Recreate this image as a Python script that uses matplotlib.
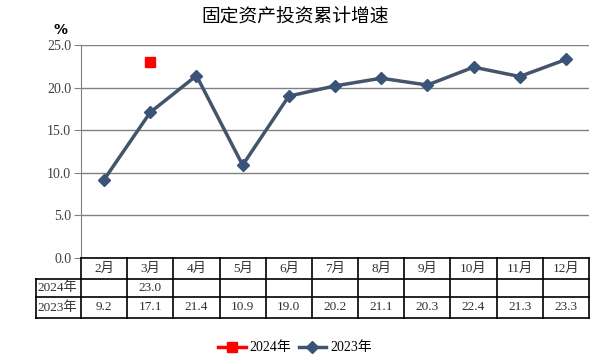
import numpy as np
import matplotlib
matplotlib.use('Agg')
import matplotlib.pyplot as plt

plt.rcParams['font.family'] = ['Liberation Serif', 'Noto Sans CJK SC']

""" Data """
months = ['2月', '3月', '4月', '5月', '6月', '7月', '8月', '9月', '10月', '11月', '12月']
vals2024 = [None, 23.0, None, None, None, None, None, None, None, None, None]
vals2023 = [9.2, 17.1, 21.4, 10.9, 19.0, 20.2, 21.1, 20.3, 22.4, 21.3, 23.3]
seriesNames = ['2024年', '2023年']
title = '固定资产投资累计增速'

lineColor = '#44546A'
markColor = '#3A5378'
red = '#FF0000'

W, H = 599, 363
fig = plt.figure(figsize=(W/100, H/100), dpi=100)
axL, axR, axT, axB = 81, 589, 45, 258
ax = fig.add_axes([axL/W, 1 - axB/H, (axR - axL)/W, (axB - axT)/H])

x = np.arange(len(months))
y24 = np.array([np.nan if v is None else v for v in vals2024])
ax.plot(x, vals2023, color=lineColor, linewidth=2.5, marker='D', markersize=6,
        markerfacecolor=markColor, markeredgecolor=markColor, zorder=3)
ax.plot(x, y24, color=red, marker='s', markersize=7, linestyle='none', zorder=3)

ax.set_xlim(-0.5, len(months) - 0.5)
ax.set_ylim(0, 25)
ticks = np.arange(0, 25.1, 5)
ax.set_yticks(ticks)
ax.set_yticklabels(['%.1f' % v for v in ticks], fontsize=10, color='#404040')
ax.set_xticks([])
ax.grid(axis='y', color='#808080', linewidth=1)
ax.set_axisbelow(True)
for s in ['top', 'right', 'bottom']:
    ax.spines[s].set_visible(False)
ax.spines['left'].set_color('#808080')
ax.tick_params(axis='y', length=5, color='#808080', pad=2)

fig.text(60/W, 1 - 30/H, '%', fontsize=10, fontweight='bold', ha='center', va='center',
         family='DejaVu Sans')
fig.text(295/W, 1 - 17/H, title, fontsize=13.5, ha='center', va='center')

""" Table drawn by hand (pixel coords) """
def fx(px):
    return px/W
def fy(py):
    return 1 - py/H

labelL = 36
rowY = [258, 279, 297, 318]
colX = axL + np.arange(len(months) + 1)*(axR - axL)/len(months)
lw = 1.2
# horizontal lines
fig.add_artist(plt.Line2D([fx(axL), fx(axR)], [fy(rowY[0])]*2, color='black', lw=lw))
for yy in rowY[1:]:
    fig.add_artist(plt.Line2D([fx(labelL), fx(axR)], [fy(yy)]*2, color='black', lw=lw))
# vertical lines
for xx in colX:
    fig.add_artist(plt.Line2D([fx(xx)]*2, [fy(rowY[0]), fy(rowY[3])], color='black', lw=lw))
fig.add_artist(plt.Line2D([fx(labelL)]*2, [fy(rowY[1]), fy(rowY[3])], color='black', lw=lw))

tcol = '#303030'
rows = [months,
        ['' if v is None else '%.1f' % v for v in vals2024],
        ['%.1f' % v for v in vals2023]]
for r, row in enumerate(rows):
    yc = (rowY[r] + rowY[r + 1])/2
    for c, txt in enumerate(row):
        xc = (colX[c] + colX[c + 1])/2
        fig.text(fx(xc), fy(yc), txt, fontsize=9.5, color=tcol, ha='center', va='center')
for r, name in enumerate(seriesNames):
    yc = (rowY[r + 1] + rowY[r + 2])/2
    fig.text(fx(labelL + 1), fy(yc), name, fontsize=9.5, color=tcol, ha='left', va='center')

""" Legend """
h24 = plt.Line2D([], [], color=red, linewidth=2.5, marker='s', markersize=7)
h23 = plt.Line2D([], [], color=lineColor, linewidth=2.5, marker='D', markersize=6,
                 markerfacecolor=markColor, markeredgecolor=markColor)
fig.legend([h24, h23], seriesNames, loc='center', bbox_to_anchor=(295/W, 1 - 348/H),
           ncol=2, frameon=False, handlelength=2.0, columnspacing=0.5,
           handletextpad=0.3, prop={'size': 10})

plt.savefig('out.png', dpi=100)
